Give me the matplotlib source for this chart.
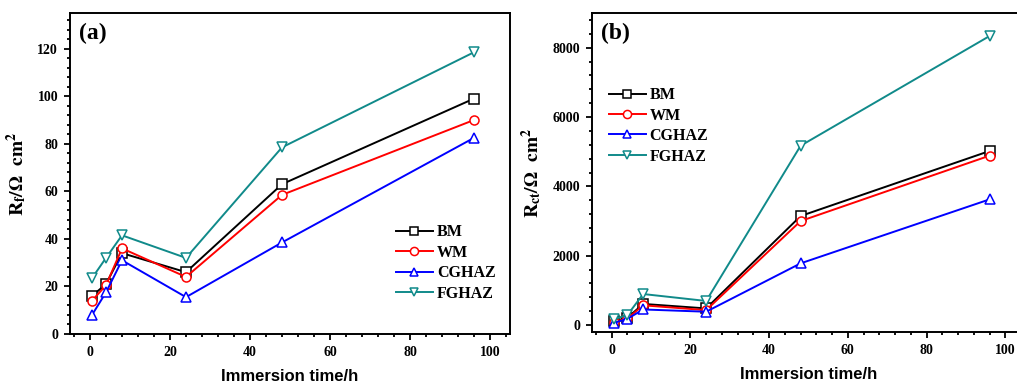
import matplotlib
matplotlib.use("Agg")
import matplotlib.pyplot as plt
from matplotlib.ticker import MultipleLocator

plt.rcParams['font.family'] = 'Liberation Serif'
plt.rcParams['font.weight'] = 'bold'
plt.rcParams['mathtext.fontset'] = 'stix'

time_h = [0.5, 4, 8, 24, 48, 96]
series = ["BM", "WM", "CGHAZ", "FGHAZ"]

rf_bm = [16, 21, 34, 26, 63, 99]
rf_wm = [14, 20.5, 36, 24, 58.5, 90]
rf_cghaz = [8, 17.5, 31, 15.5, 38.5, 82.5]
rf_fghaz = [23.5, 32, 41.5, 32, 78.5, 118.5]

rct_bm = [110, 210, 610, 480, 3145, 5020]
rct_wm = [90, 190, 570, 430, 3000, 4885]
rct_cghaz = [60, 180, 450, 385, 1780, 3625]
rct_fghaz = [170, 290, 895, 695, 5172, 8336]

colors = ["black", "red", "blue", "#108a8a"]
markers = ["s", "o", "^", "v"]

fig = plt.figure(figsize=(10.17, 3.83), dpi=100)
ax1 = fig.add_axes([70/1017, 1 - 334/383, 440/1017, 321/383])
ax2 = fig.add_axes([592/1017, 1 - 332/383, 433/1017, 319/383])

def draw(ax, data, ylim, ymaj, ymin, ylabel, tag, legend_loc):
  for vals, name, c, m in zip(data, series, colors, markers):
    ax.plot(time_h, vals, color=c, marker=m, markersize=6.5, markerfacecolor="white",
            markeredgecolor=c, markeredgewidth=1.1, linewidth=1.4, label=name)
  ax.set_xlim(-5, 105)
  ax.set_ylim(*ylim)
  ax.xaxis.set_major_locator(MultipleLocator(20))
  ax.xaxis.set_minor_locator(MultipleLocator(4))
  ax.yaxis.set_major_locator(MultipleLocator(ymaj))
  ax.yaxis.set_minor_locator(MultipleLocator(ymin))
  ax.tick_params(which="both", direction="out", top=False, right=False, labelsize=10, width=1.3)
  ax.tick_params(which="major", length=4.5, pad=4)
  ax.tick_params(which="minor", length=2.5)
  for s in ax.spines.values():
    s.set_linewidth(1.4)
  for lab in ax.get_xticklabels() + ax.get_yticklabels():
    lab.set_fontweight("bold")
  ax.set_xlabel("Immersion time/h", fontfamily="Liberation Sans", fontweight="bold", fontsize=12, labelpad=7)
  ax.set_ylabel(ylabel, fontsize=14, labelpad=6)
  ax.text(0.02, 0.97, tag, transform=ax.transAxes, fontsize=17, fontweight="bold", va="top", ha="left")
  ax.legend(loc="lower left", bbox_to_anchor=legend_loc, frameon=False, borderpad=0, borderaxespad=0,
            prop={"family": "Liberation Serif", "weight": "bold", "size": 11.5},
            handlelength=2.3, handletextpad=0.25, labelspacing=0.28, markerscale=0.9)

draw(ax1, [rf_bm, rf_wm, rf_cghaz, rf_fghaz], (0, 135), 20, 4,
     r'$\mathbf{R_f/\Omega\ \ cm^2}$', "(a)", (0.741, 0.1))
draw(ax2, [rct_bm, rct_wm, rct_cghaz, rct_fghaz], (-200, 9000), 2000, 400,
     r'$\mathbf{R_{ct}/\Omega\ \ cm^2}$', "(b)", (0.039, 0.525))

fig.savefig("out.png", dpi=100)
